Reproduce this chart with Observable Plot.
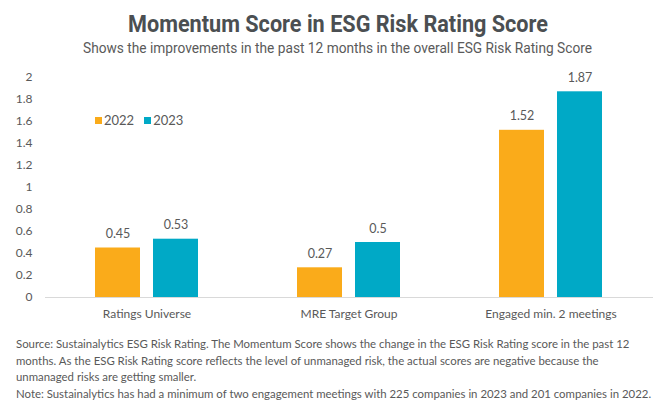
<!DOCTYPE html>
<html><head><meta charset="utf-8">
<script src="https://cdn.jsdelivr.net/npm/d3@7"></script>
<script src="https://cdn.jsdelivr.net/npm/@observablehq/plot@0.6"></script>
<style>
body{margin:0;background:#fff;}
#wrap{position:relative;width:660px;height:408px;overflow:hidden;font-family:Lato,sans-serif;background:#fff;}
#chart{position:absolute;left:0;top:0;}
.fit{position:absolute;white-space:nowrap;transform-origin:0 0;line-height:1;}
#title{font-family:Roboto,sans-serif;font-weight:700;font-size:24px;color:#4b4f52;top:12px;}
#subtitle{font-family:Roboto,sans-serif;font-weight:400;font-size:15px;color:#5a5a5a;top:41px;}
#legend{position:absolute;left:95px;top:112px;font-size:13px;color:#595959;display:flex;align-items:center;white-space:nowrap;}
#legend .item{display:flex;align-items:center;margin-right:10px;}
#legend .sw{width:7px;height:7px;margin-right:2px;}
#footer{position:absolute;left:16px;top:336px;font-size:11.4px;line-height:16.5px;color:#595959;white-space:nowrap;}
</style>
</head><body>
<div id="wrap">
  <div id="chart"></div>
  <div id="title" class="fit" data-x="128" data-w="420">Momentum Score in ESG Risk Rating Score</div>
  <div id="subtitle" class="fit" data-x="83" data-w="509">Shows the improvements in the past 12 months in the overall ESG Risk Rating Score</div>
  <div id="legend"></div>
  <div id="footer"></div>
</div>
<script>
const categories = ["Ratings Universe", "MRE Target Group", "Engaged min. 2 meetings"];
const years = ["2022", "2023"];
const values2022 = [0.45, 0.27, 1.52];
const values2023 = [0.53, 0.5, 1.87];
const yTicks = [0, 0.2, 0.4, 0.6, 0.8, 1, 1.2, 1.4, 1.6, 1.8, 2];
const colors = ["#FAAB1A", "#00A9C6"];
const footerLines = [
  "Source: Sustainalytics ESG Risk Rating. The Momentum Score shows the change in the ESG Risk Rating score in the past 12",
  "months. As the ESG Risk Rating score reflects the level of unmanaged risk, the actual scores are negative because the",
  "unmanaged risks are getting smaller.",
  "Note: Sustainalytics has had a minimum of two engagement meetings with 225 companies in 2023 and 201 companies in 2022."
];

const data = categories.flatMap((c, i) => [
  {category: c, year: years[0], value: values2022[i]},
  {category: c, year: years[1], value: values2023[i]}
]);
const d22 = data.filter(d => d.year === years[0]);
const d23 = data.filter(d => d.year === years[1]);

const chart = Plot.plot({
  width: 660,
  height: 330,
  marginLeft: 45,
  marginRight: 7,
  marginTop: 77,
  marginBottom: 33,
  style: {fontFamily: "Lato, sans-serif", fontSize: "12px", color: "#595959", background: "transparent"},
  x: {type: "band", domain: categories, paddingInner: 0.49, paddingOuter: 0.245, label: null},
  y: {domain: [0, 2], label: null},
  color: {domain: years, range: colors},
  marks: [
    Plot.ruleY([0], {stroke: "#d9d9d9", strokeWidth: 1}),
    Plot.barY(d22, {x: "category", y: "value", fill: "year", insetRight: 58}),
    Plot.barY(d23, {x: "category", y: "value", fill: "year", insetLeft: 58}),
    Plot.text(d22, {x: "category", y: "value", text: d => String(d.value), dx: -29, dy: -14, fontSize: 12.5, fill: "#595959"}),
    Plot.text(d23, {x: "category", y: "value", text: d => String(d.value), dx: 29, dy: -14, fontSize: 12.5, fill: "#595959"}),
    Plot.axisY({ticks: yTicks, tickFormat: d => String(d), tickSize: 0, tickPadding: 13, label: null, fontSize: 12, fill: "#595959"}),
    Plot.axisX({tickSize: 0, tickPadding: 12, label: null, fontSize: 12, fill: "#595959"})
  ]
});
document.getElementById("chart").appendChild(chart);

const legend = document.getElementById("legend");
years.forEach((y, i) => {
  const item = document.createElement("div");
  item.className = "item";
  const sw = document.createElement("div");
  sw.className = "sw";
  sw.style.background = colors[i];
  const t = document.createElement("span");
  t.textContent = y;
  item.appendChild(sw); item.appendChild(t);
  legend.appendChild(item);
});

const footer = document.getElementById("footer");
footerLines.forEach(l => {
  const div = document.createElement("div");
  div.textContent = l;
  footer.appendChild(div);
});

document.querySelectorAll(".fit").forEach(el => {
  const x = +el.dataset.x, w = +el.dataset.w;
  el.style.left = x + "px";
  const cw = el.getBoundingClientRect().width;
  el.style.transform = `scaleX(${w / cw})`;
});
</script>
</body></html>
